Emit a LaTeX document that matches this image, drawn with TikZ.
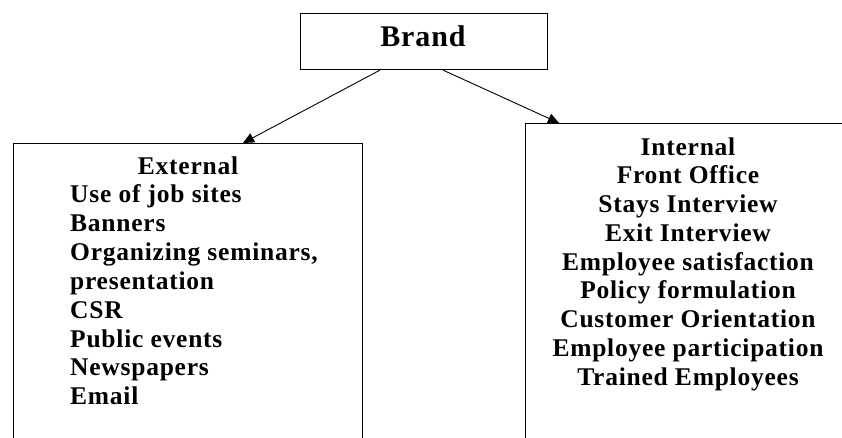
\documentclass[tikz,border=0pt]{standalone}
\usepackage{fontspec}
\setmainfont{Liberation Serif}[LetterSpace=3]
\usetikzlibrary{arrows.meta,calc}
\begin{document}
\begin{tikzpicture}[x=1pt,y=-1pt,
  box/.style={draw, line width=1.1pt, rectangle, inner sep=0pt, anchor=north west},
  label/.style={font=\fontsize{25.5}{28.8}\selectfont\bfseries, inner sep=0pt},
  title/.style={font=\fontsize{30}{32}\selectfont\bfseries, inner sep=0pt},
  link/.style={line width=0.9pt, -{Triangle[length=11pt,width=10pt]}}]
\clip (0,0) rectangle (842,437);
% top box
\node[box, minimum width=247pt, minimum height=56pt] (brand) at (300,13) {};
\node[title, anchor=base] (brandtxt) at (423,46) {Brand};
% lower boxes (run past the bottom edge)
\node[box, minimum width=349pt, minimum height=330pt] (ext) at (13,143) {};
\node[box, minimum width=340pt, minimum height=340pt] (int) at (525,123) {};
% connectors
\draw[link] ($(brand.south west)+(80,0)$) -- ($(ext.north west)+(230,0)$);
\draw[link] ($(brand.south west)+(143,0)$) -- ($(int.north west)+(34,0)$);
% external channels
\node[label, anchor=base] (exttitle) at (188,174) {External};
\foreach \t [count=\i] in {Use of job sites, Banners, {Organizing seminars,}, presentation, CSR, Public events, Newspapers, Email}
  \node[label, anchor=base west] (ext\i) at (70,{202.5+28.9*(\i-1)}) {\t};
% internal channels
\foreach \t [count=\i] in {Internal, Front Office, Stays Interview, Exit Interview, Employee satisfaction, Policy formulation, Customer Orientation, Employee participation, Trained Employees}
  \node[label, anchor=base] (int\i) at (688,{155+28.75*(\i-1)}) {\t};
\end{tikzpicture}
\end{document}
